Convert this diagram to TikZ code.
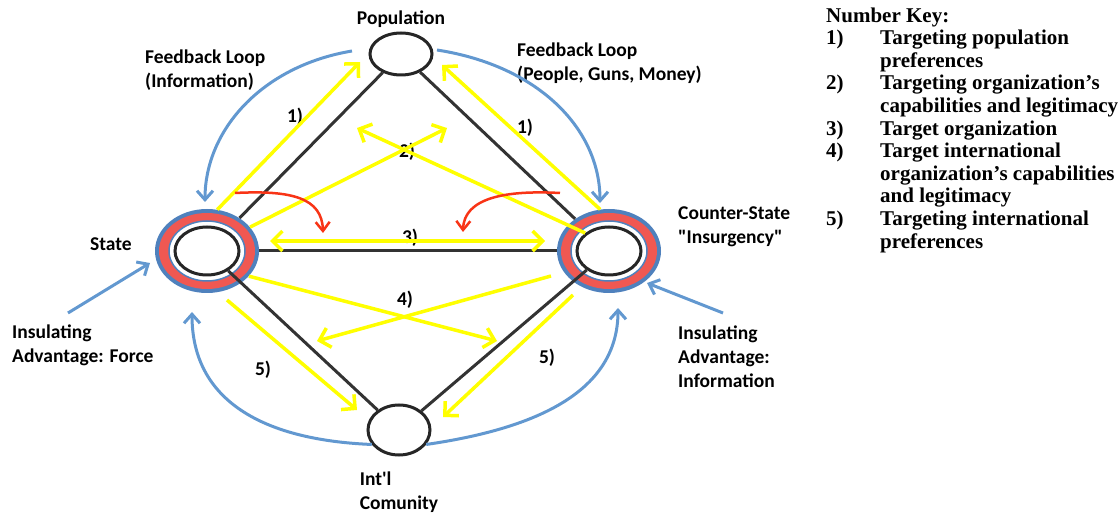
\documentclass[tikz,border=0pt]{standalone}
\usepackage{fontspec}
\setmainfont{Carlito}[Ligatures=TeXOff]
\newfontfamily\keyfont{Liberation Serif}
\usepackage{xcolor}
\usepackage{tikz}
\usetikzlibrary{shapes.geometric, positioning}
\usetikzlibrary{arrows.meta}
\tikzset{>={Straight Barb[length=10pt,width=18pt]}}
\definecolor{ringblue}{RGB}{79,129,189}
\definecolor{ringred}{RGB}{240,88,82}
\definecolor{fbblue}{RGB}{98,152,208}
\definecolor{hotred}{RGB}{248,52,22}
\definecolor{yel}{RGB}{255,255,0}

\begin{document}
\begin{tikzpicture}[x=1pt, y=-1pt, circ/.style={ellipse, draw=black!85, line width=3pt, fill=white, inner sep=0pt}, core/.style={circ, minimum width=64pt, minimum height=48pt}, ringout/.style={ellipse, fill=ringblue, inner sep=0pt, minimum width=104pt, minimum height=84pt}, ringmid/.style={ellipse, fill=ringred, inner sep=0pt, minimum width=96pt, minimum height=76pt}, ringin/.style={ellipse, draw=ringblue, line width=1.5pt, fill=white, inner sep=0pt, minimum width=76pt, minimum height=60pt}, textnode/.style={font=\bfseries\fontsize{19.5}{24}\selectfont, align=left, inner sep=0pt}, keynode/.style={font=\keyfont\bfseries\fontsize{21}{22.6}\selectfont, inner sep=0pt}, link/.style={draw=black!80, line width=3pt}, yellowarrow/.style={yel, line width=3.5pt, >={Straight Barb[length=10pt,width=20pt]}}, feedback/.style={fbblue, line width=3pt, >={Straight Barb[length=9pt,width=16pt]}}, swing/.style={hotred, line width=2.5pt, >={Straight Barb[length=9pt,width=14pt]}}]
    \useasboundingbox (0,0) rectangle (1120,521);

    %Nodes
    \node[circ, minimum width=62pt, minimum height=42pt](pop) at (401,54){};
    \node[ringout](state) at (207,251){};
    \node[ringmid] at (state){};
    \node[ringin] at (state){};
    \node[core](statecore) at (state){};
    \node[ringout](insurg) at (609,251){};
    \node[ringmid] at (insurg){};
    \node[ringin] at (insurg){};
    \node[core](insurgcore) at (insurg){};
    \node[circ, minimum width=62pt, minimum height=50pt](intl) at (399,430){};

    %Labels
    \node[textnode](poplabel)[above=4pt of pop]{Population};
    \node[textnode](statelabel)[left=23pt of state, yshift=7pt]{State};
    \node[textnode, anchor=west](insurglabel) at (678,227){Counter-State\\"Insurgency"};
    \node[textnode](intllabel)[below=15pt of intl]{Int'l\\Comunity};
    \node[textnode, anchor=west](fbinfo) at (145,70){Feedback Loop\\(Information)};
    \node[textnode, anchor=west](fbpeople) at (517,63){Feedback Loop\\(People, Guns, Money)};
    \node[textnode, anchor=west](force) at (12,345){Insulating\\Advantage: Force};
    \node[textnode, anchor=west](info) at (678,357){Insulating\\Advantage:\\Information};
    \node[textnode](one) at (295,117){1)};
    \node[textnode](oneb) at (525,128){1)};
    \node[textnode](two) at (407,152){2)};
    \node[textnode](three) at (410,238){3)};
    \node[textnode](four) at (405,300){4)};
    \node[textnode](five) at (263,370){5)};
    \node[textnode](fiveb) at (547,358){5)};
    \node[keynode, anchor=north west](key) at (826,6){\begin{tabular}{@{}p{54pt}@{}l@{}}
        \multicolumn{2}{@{}l@{}}{Number Key:}\\
        1) & Targeting population\\
           & preferences\\
        2) & Targeting organization’s\\
           & capabilities and legitimacy\\
        3) & Target organization\\
        4) & Target international\\
           & organization’s capabilities\\
           & and legitimacy\\
        5) & Targeting international\\
           & preferences
    \end{tabular}};

    %Free ends
    \coordinate (popl) at (360,62);
    \coordinate (popr) at (442,65);
    \coordinate (midl) at (357,128);
    \coordinate (midr) at (447,128);
    \coordinate (threel) at (270,241);
    \coordinate (threer) at (545,241);
    \coordinate (fours) at (551,276);
    \coordinate (fourl) at (317,341);
    \coordinate (fourr) at (497,341);
    \coordinate (fivel) at (227,300);
    \coordinate (fiver) at (573,295);
    \coordinate (intll) at (357,410);
    \coordinate (intlr) at (443,417);
    \coordinate (redl) at (235,193);
    \coordinate (redlend) at (323,233);
    \coordinate (redr) at (560,193);
    \coordinate (redrend) at (463,232);
    \coordinate (fbl) at (352,51);
    \coordinate (fbr) at (437,50);
    \coordinate (statetop) at (205,202);
    \coordinate (insurgtop) at (600,203);
    \coordinate (statebot) at (192,312);
    \coordinate (insurgbot) at (618,308);
    \coordinate (forcefrom) at (68,313);
    \coordinate (forceto) at (150,263);
    \coordinate (infofrom) at (723,313);
    \coordinate (infoto) at (647,283);

    %Lines
    \draw[link] (pop) -- (state);
    \draw[link] (pop) -- (insurg);
    \draw[link] (state) -- (insurg);
    \draw[link] (statecore) -- (intl);
    \draw[link] (insurgcore) -- (intl);

    %Yellow arrows
    \draw[yellowarrow, ->] (state.76) -- (popl);
    \draw[yellowarrow, ->] (insurg.102) -- (popr);
    \draw[yellowarrow, ->] (state.29) -- (midr);
    \draw[yellowarrow, ->] (insurgcore.143) -- (midl);
    \draw[yellowarrow, <->] (threel) -- (threer);
    \draw[yellowarrow, ->] (state.-31) -- (fourr);
    \draw[yellowarrow, ->] (fours) -- (fourl);
    \draw[yellowarrow, ->] (fivel) -- (intll);
    \draw[yellowarrow, ->] (fiver) -- (intlr);

    %Red arrows
    \draw[swing, ->] (redl) .. controls (292,190) and (322,198) .. (redlend);
    \draw[swing, ->] (redr) .. controls (505,190) and (464,198) .. (redrend);

    %Blue arrows
    \draw[feedback, ->] (fbl) .. controls (262,66) and (205,130) .. (statetop);
    \draw[feedback, ->] (fbr) .. controls (540,66) and (600,130) .. (insurgtop);
    \draw[feedback, ->] (intl.208) .. controls (262,440) and (192,400) .. (statebot);
    \draw[feedback, ->] (intl.-28) .. controls (540,428) and (618,390) .. (insurgbot);
    \draw[feedback, ->] (forcefrom) -- (forceto);
    \draw[feedback, ->] (infofrom) -- (infoto);

\end{tikzpicture}
\end{document}
